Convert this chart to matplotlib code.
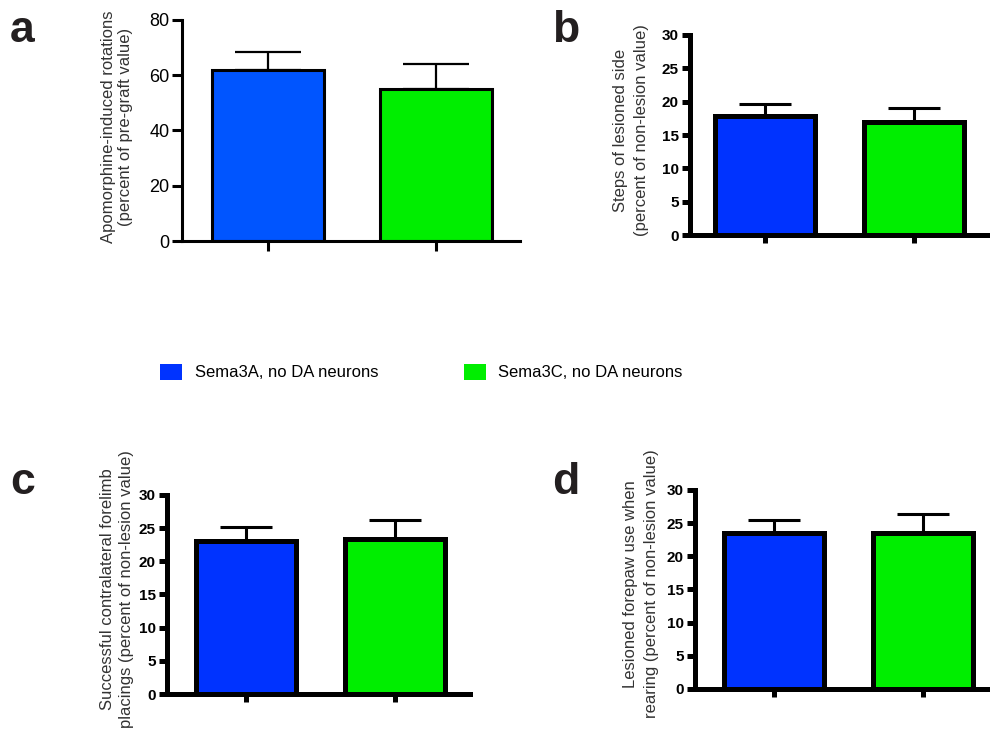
import matplotlib
matplotlib.use("Agg")
import matplotlib.pyplot as plt
from matplotlib.patches import Patch

plt.rcParams['font.family'] = ['Liberation Sans', 'DejaVu Sans']

groups = ["Sema3A, no DA neurons", "Sema3C, no DA neurons"]

# panel values (mean, upper SEM)
rot_mean = [62.0, 55.0]
rot_err = [6.5, 9.2]
steps_mean = [17.9, 16.9]
steps_err = [1.8, 2.1]
place_mean = [23.1, 23.4]
place_err = [2.1, 2.8]
paw_mean = [23.5, 23.5]
paw_err = [2.0, 2.9]

yticks_a = [0, 20, 40, 60, 80]
yticks_bcd = [0, 5, 10, 15, 20, 25, 30]

blue_a = "#0055ff"
blue = "#0033ff"
green = "#00ee00"

W, H = 990, 729
fig = plt.figure(figsize=(9.9, 7.29), dpi=100)


def panel(rect, means, errs, ylim, yticks, ylabel, lab_xy, lab_sp, letter, letter_xy,
          thick, cols, xlim):
    ax = fig.add_axes(rect)
    xs = [1, 2]
    lw = 3.6 if thick else 2.2
    elw = 2.2 if thick else 1.6
    cap = 19 if thick else 24
    ax.errorbar(xs, means, yerr=[[0, 0], errs], fmt="none", ecolor="black",
                elinewidth=elw, capsize=cap, capthick=elw, zorder=1)
    ax.bar(xs, means, width=0.67, color=cols, edgecolor="black", linewidth=lw, zorder=2)
    ax.set_xlim(*xlim)
    ax.set_ylim(*ylim)
    ax.set_yticks(yticks)
    ax.set_xticks(xs)
    ax.set_xticklabels(["", ""])
    for s in ["top", "right"]:
        ax.spines[s].set_visible(False)
    for s in ["left", "bottom"]:
        ax.spines[s].set_linewidth(lw)
        ax.spines[s].set_capstyle("projecting")
    ax.tick_params(axis="both", direction="out", length=6 if thick else 7, width=lw,
                   labelsize=11 if thick else 13, pad=2)
    for lab in ax.get_yticklabels():
        lab.set_fontweight("bold" if thick else "normal")
    # y label placed by its centre in pixels
    fig.text(lab_xy[0] / W, 1 - lab_xy[1] / H, ylabel, rotation=90, ha="center", va="center",
             fontsize=12, color="#333333", linespacing=lab_sp, multialignment="center")
    fig.text(letter_xy[0] / W, 1 - letter_xy[1] / H, letter, fontsize=32, fontweight="bold",
             color="#231f20", va="center", ha="left")
    ax.patch.set_alpha(0)
    return ax


panel([0.1838, 0.6694, 0.3415, 0.3032], rot_mean, rot_err, (0, 80), yticks_a,
      "Apomorphine-induced rotations\n(percent of pre-graft value)", (117, 127), 1.1,
      "a", (10, 30), False, [blue_a, green], (0.488, 2.5))
panel([0.697, 0.6776, 0.302, 0.2744], steps_mean, steps_err, (0, 30), yticks_bcd,
      "Steps of lesioned side\n(percent of non-lesion value)", (631, 130), 1.5,
      "b", (552, 30), True, [blue, green], (0.5, 2.5))
panel([0.1687, 0.048, 0.306, 0.273], place_mean, place_err, (0, 30), yticks_bcd,
      "Successful contralateral forelimb\nplacings (percent of non-lesion value)", (117, 589), 1.25,
      "c", (10, 482), True, [blue, green], (0.47, 2.5))
panel([0.702, 0.0549, 0.306, 0.273], paw_mean, paw_err, (0, 30), yticks_bcd,
      "Lesioned forepaw use when\nrearing (percent of non-lesion value)", (641, 584), 1.5,
      "d", (552, 482), True, [blue, green], (0.47, 2.5))

handles = [Patch(facecolor=blue, edgecolor="none"), Patch(facecolor=green, edgecolor="none")]
fig.legend(handles, groups, loc="center left", bbox_to_anchor=(160 / W, 1 - 372 / H), ncol=2,
           frameon=False, fontsize=12,
           handlelength=1.32, handleheight=1.08, columnspacing=5.1, handletextpad=0.78,
           borderpad=0, borderaxespad=0)

fig.savefig("out.png", dpi=100)
